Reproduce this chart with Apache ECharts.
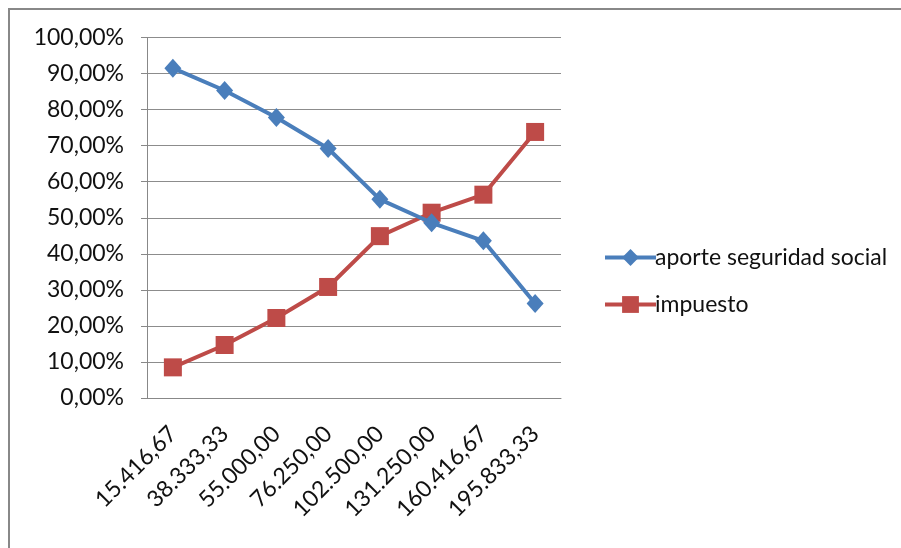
<!DOCTYPE html>
<html>
<head>
<meta charset="utf-8">
<script src="https://cdn.jsdelivr.net/npm/echarts@6/dist/echarts.min.js"></script>
<style>
  html, body { margin: 0; padding: 0; background: #fff; }
  #chart { width: 901px; height: 548px; }
</style>
</head>
<body>
<div id="chart"></div>
<script>
// Income brackets (category axis)
var categories = ['15.416,67', '38.333,33', '55.000,00', '76.250,00',
                  '102.500,00', '131.250,00', '160.416,67', '195.833,33'];
// Share of each component, in percent
var aporteSeguridadSocial = [91.5, 85.3, 77.8, 69.2, 55.1, 48.6, 43.6, 26.2];
var impuesto = [8.5, 14.7, 22.2, 30.8, 44.9, 51.4, 56.4, 73.8];
var seriesNames = ['aporte seguridad social', 'impuesto'];
var yTicks = { min: 0, max: 100, step: 10 };

var FONT = 'Lato, "Liberation Sans", sans-serif';
var TEXT = '#111111';
var chart = echarts.init(document.getElementById('chart'), null, { renderer: 'canvas' });

function pct(v) {
  return v.toFixed(2).replace('.', ',') + '%';
}

chart.setOption({
  animation: false,
  backgroundColor: '#ffffff',
  graphic: [{
    type: 'polyline',
    shape: { points: [[9, 560], [9, 9], [910, 9]] },
    style: { stroke: '#888888', lineWidth: 2, fill: null },
    silent: true
  }],
  grid: { left: 147, top: 37.5, width: 414, height: 360.5, containLabel: false },
  legend: {
    orient: 'vertical',
    left: 598,
    top: 241,
    itemWidth: 51,
    itemHeight: 21,
    itemGap: 24,
    lineStyle: { width: 4 },
    textStyle: { fontFamily: FONT, fontSize: 23, color: TEXT, padding: [0, 0, 0, -6] },
    data: seriesNames
  },
  xAxis: {
    type: 'category',
    data: categories,
    boundaryGap: true,
    axisLine: { lineStyle: { color: '#888888', width: 1 } },
    axisTick: { show: false },
    axisLabel: {
      rotate: 45,
      margin: 32,
      interval: 0,
      fontFamily: FONT,
      fontSize: 23,
      color: TEXT
    },
    splitLine: { show: false }
  },
  yAxis: {
    type: 'value',
    min: yTicks.min,
    max: yTicks.max,
    interval: yTicks.step,
    axisLine: { show: true, lineStyle: { color: '#888888', width: 1 } },
    axisTick: { show: true, length: 6, lineStyle: { color: '#888888' } },
    axisLabel: {
      formatter: pct,
      margin: 23,
      fontFamily: FONT,
      fontSize: 23,
      color: TEXT
    },
    splitLine: { show: true, lineStyle: { color: '#8c8c8c', width: 1 } }
  },
  series: [{
    name: seriesNames[0],
    type: 'line',
    data: aporteSeguridadSocial,
    symbol: 'diamond',
    symbolSize: [17, 19],
    lineStyle: { color: '#4a7ebb', width: 4 },
    itemStyle: { color: '#4a7ebb' },
    z: 3
  }, {
    name: seriesNames[1],
    type: 'line',
    data: impuesto,
    symbol: 'rect',
    symbolSize: 18,
    lineStyle: { color: '#be4b48', width: 4 },
    itemStyle: { color: '#be4b48' },
    z: 2
  }]
});
</script>
</body>
</html>
